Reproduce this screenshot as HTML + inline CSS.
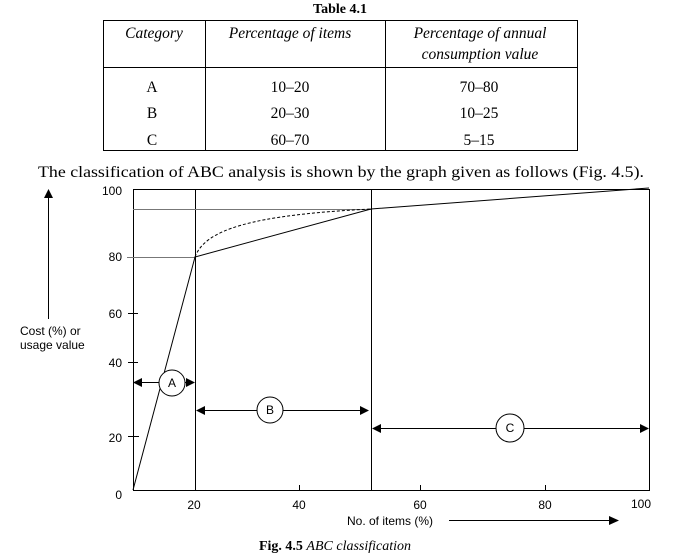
<!DOCTYPE html>
<html><head><style>
body{margin:0;background:#fff;width:699px;height:557px;overflow:hidden}
svg{display:block}
.s{font-family:"Liberation Serif",serif}
.a{font-family:"Liberation Sans",sans-serif;font-size:12px}
</style></head><body>
<svg width="699" height="557" viewBox="0 0 699 557">
<text x="340" y="13" class="s" font-size="14" font-weight="bold" text-anchor="middle">Table 4.1</text>
<g stroke="#000" stroke-width="1" fill="none">
<rect x="103.5" y="20.5" width="474" height="130"/>
<line x1="205.5" y1="20" x2="205.5" y2="150"/>
<line x1="385.5" y1="20" x2="385.5" y2="150"/>
<line x1="103" y1="67.5" x2="577" y2="67.5"/>
</g>
<g class="s" font-size="15.5" text-anchor="middle">
<text x="154" y="38" font-style="italic">Category</text>
<text x="290" y="38" font-style="italic">Percentage of items</text>
<text x="480" y="38" font-style="italic">Percentage of annual</text>
<text x="480" y="59" font-style="italic">consumption value</text>
<text x="152" y="92">A</text><text x="290" y="92">10–20</text><text x="479" y="92">70–80</text>
<text x="152" y="118">B</text><text x="290" y="118">20–30</text><text x="479" y="118">10–25</text>
<text x="152" y="145">C</text><text x="290" y="145">60–70</text><text x="479" y="145">5–15</text>
</g>
<text x="38" y="177" class="s" font-size="16" textLength="606" lengthAdjust="spacingAndGlyphs">The classification of ABC analysis is shown by the graph given as follows (Fig. 4.5).</text>

<g stroke="#000" fill="none" stroke-width="1">
<rect x="133.5" y="189.5" width="516" height="301"/>
<line x1="195.5" y1="189" x2="195.5" y2="490"/>
<line x1="371.5" y1="189" x2="371.5" y2="490"/>
<line x1="127" y1="257.5" x2="195" y2="257.5" stroke="#777"/>
<line x1="133" y1="209.5" x2="371" y2="209.5" stroke="#777"/>
<polyline points="133,490 195,257 371,209 649,188"/>
<path d="M195,257 C205,230 250,215 371,209" stroke-dasharray="3,2"/>
<line x1="128" y1="313.5" x2="138" y2="313.5"/>
<line x1="128" y1="362.5" x2="138" y2="362.5"/>
<line x1="128" y1="436.5" x2="139" y2="436.5"/>
<line x1="299.5" y1="485" x2="299.5" y2="490"/>
<line x1="420.5" y1="485" x2="420.5" y2="490"/>
<line x1="545.5" y1="485" x2="545.5" y2="490"/>
<line x1="140" y1="382.5" x2="188" y2="382.5"/>
<line x1="203" y1="410.5" x2="363" y2="410.5"/>
<line x1="379" y1="428.5" x2="642" y2="428.5"/>
<circle cx="172" cy="383" r="13" fill="#fff"/>
<circle cx="270" cy="410" r="13" fill="#fff"/>
<circle cx="510" cy="428" r="14" fill="#fff"/>
<line x1="48.5" y1="197" x2="48.5" y2="319"/>
<line x1="449" y1="520.5" x2="610" y2="520.5"/>
</g>
<g fill="#000">
<polygon points="133,382.5 142,378 142,387"/>
<polygon points="195,382.5 186,378 186,387"/>
<polygon points="196,410.5 205,406 205,415"/>
<polygon points="369,410.5 360,406 360,415"/>
<polygon points="372,428.5 381,424 381,433"/>
<polygon points="649,428.5 640,424 640,433"/>
<polygon points="48.5,189 44,198 53,198"/>
<polygon points="619,520.5 609,516 609,525"/>
</g>
<g class="a" text-anchor="middle">
<text x="172" y="387">A</text><text x="270" y="414">B</text><text x="510" y="432">C</text>
</g>
<g class="a" text-anchor="end">
<text x="122" y="195">100</text><text x="122" y="261">80</text><text x="122" y="318">60</text>
<text x="122" y="367">40</text><text x="122" y="442">20</text><text x="122" y="499">0</text>
</g>
<g class="a" text-anchor="middle">
<text x="194" y="509">20</text><text x="299" y="509">40</text><text x="420" y="509">60</text>
<text x="545" y="509">80</text><text x="641" y="508">100</text>
</g>
<text x="20" y="335" class="a">Cost (%) or</text>
<text x="20" y="349" class="a">usage value</text>
<text x="433" y="525" class="a" text-anchor="end">No. of items (%)</text>
<text x="335" y="550" class="s" font-size="14" text-anchor="middle"><tspan font-weight="bold">Fig. 4.5</tspan> <tspan font-style="italic">ABC classification</tspan></text>
</svg>
</body></html>
